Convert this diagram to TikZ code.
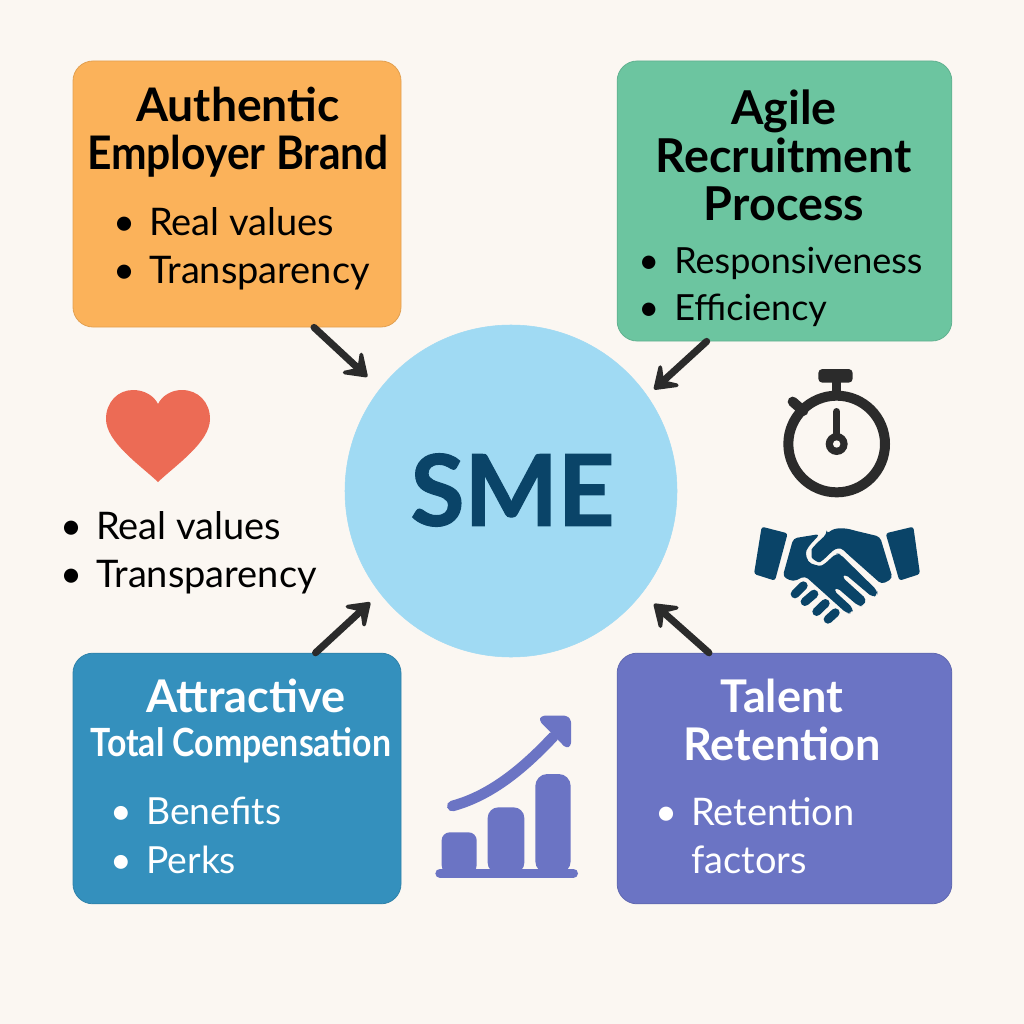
\documentclass[tikz,border=0pt]{standalone}
\usepackage{fontspec}
\usetikzlibrary{arrows.meta}
\setmainfont{Lato}
\newfontfamily\smefont[BoldFeatures={FakeBold=1.2}]{Lato}
\definecolor{bgc}{HTML}{FBF7F2}
\definecolor{orangec}{HTML}{FBB25A}
\definecolor{greenc}{HTML}{6CC5A0}
\definecolor{bluec}{HTML}{3490BD}
\definecolor{purplec}{HTML}{6B74C4}
\definecolor{circlec}{HTML}{A0DAF3}
\definecolor{navyc}{HTML}{0A4468}
\definecolor{darkc}{HTML}{2B2B2B}
\definecolor{heartc}{HTML}{EC6B55}
\newcommand{\bul}{\makebox[27pt][l]{\textbullet}}
\tikzset{
 card/.style={rounded corners=15pt,inner sep=0pt,draw=#1!90!black,line width=.6pt,fill=#1},
 ttl/.style={inner sep=0pt,align=center,font=\bfseries\fontsize{#1}{36}\selectfont},
 ttl/.default=33.8,
 lst/.style={inner sep=0pt,align=left,anchor=north west,font=\fontsize{28.5}{36.5}\selectfont},
 conn/.style={draw=darkc,line width=5.3pt,line cap=round,-{Stealth[length=21pt,width=29pt,inset=10pt,round]}},
}
\begin{document}
\begin{tikzpicture}[x=.75pt,y=-.75pt]
\fill[bgc] (0,0) rectangle (1024,1024);
\useasboundingbox (0,0) rectangle (1024,1024);
\node[card=orangec,minimum width=246pt,minimum height=199.5pt] (orange) at (237,194) {};
\node[card=greenc,minimum width=251pt,minimum height=210pt] (green) at (784.5,201) {};
\node[card=bluec,minimum width=246pt,minimum height=188pt] (blue) at (237,778.5) {};
\node[card=purplec,minimum width=251pt,minimum height=188pt] (purple) at (784.5,778.5) {};
\node[circle,fill=circlec,draw=circlec,inner sep=0pt,minimum size=249pt] (sme) at (511,491) {};
\node[text=navyc,font=\smefont\bfseries\fontsize{74}{74}\selectfont,inner sep=0pt] (smelabel) at (512.5,490) {SME};
\draw[conn,shorten >=13pt] (orange.-60) -- (sme.142);
\draw[conn,shorten >=7pt] (green.-119) -- (sme.35);
\draw[conn,shorten >=10pt] (blue.58.4) -- (sme.218);
\draw[conn,shorten >=12pt] (purple.121.8) -- (sme.-38.3);
% text
\node[ttl=34.7] (t1) at (238,132) {Authentic\\\scalebox{.92}[1]{Employer Brand}};
\node[lst] (l1) at (113,207) {\bul Real values\\\bul Transparency};
\node[ttl=35] (t2) at (784,155) {Agile\\Recruitment\\Process};
\node[lst,font=\fontsize{27}{35.5}\selectfont] (l2) at (638,247) {\bul Responsiveness\\\bul Efficiency};
\node[ttl,text=white] (t3) at (246,696) {Attractive};
\node[text=white,inner sep=0pt,font=\bfseries\fontsize{27}{30}\selectfont] (t3b) at (241,745) {\scalebox{.94}[1.08]{Total Compensation}};
\node[lst,text=white,font=\fontsize{28}{36.5}\selectfont] (l3) at (110,797) {\bul Benefits\\\bul Perks};
\node[ttl,text=white] (t4) at (782,720) {Talent\\Retention};
\node[lst,text=white] (l4) at (655,797) {\bul Retention\\\hspace*{27pt}factors};
\node[lst,text=black] (l5) at (60,511) {\bul Real values\\\bul Transparency};
% heart
\fill[heartc] (158,482) .. controls (140,465) and (106,442) .. (106,419)
  .. controls (106,402) and (118,390) .. (133,390)
  .. controls (145,390) and (154,396) .. (158,404)
  .. controls (162,396) and (171,390) .. (182,390)
  .. controls (198,390) and (210,402) .. (210,419)
  .. controls (210,442) and (176,465) .. (158,482) -- cycle;
% stopwatch
\begin{scope}[shift={(740,350)},x=.25pt,y=-.25pt]
\draw[darkc,line width=7.5pt] (290,282) circle (145);
\fill[darkc,rounded corners=3pt] (235,57) rectangle (338,98);
\fill[darkc] (275,95) rectangle (303,135);
\draw[darkc,line width=7.5pt,line cap=round] (158,155) -- (190,183);
\draw[darkc,line width=5.5pt,line cap=round] (290,185) -- (290,270);
\fill[darkc] (290,282) circle (33);
\fill[bgc] (290,282) circle (11);
% handshake
\fill[navyc,rounded corners=2pt] (65,530) -- (143,550) -- (105,692) -- (42,672) -- cycle;
\fill[navyc,rounded corners=2pt] (437,550) -- (520,530) -- (540,672) -- (478,692) -- cycle;
\fill[navyc,rounded corners=3pt] (260,553) .. controls (285,530) and (320,535) .. (345,542) -- (420,560) -- (458,685) -- (425,703) -- (320,610) .. controls (300,590) and (285,597) .. (270,610) -- (250,630) .. controls (235,640) and (215,625) .. (215,610) .. controls (215,595) and (240,570) .. (260,553) -- cycle;
\fill[navyc,rounded corners=3pt] (160,565) -- (240,552) -- (205,590) .. controls (195,610) and (200,635) .. (225,645) .. controls (250,650) and (265,630) .. (290,610) -- (300,612) -- (412,722) -- (412,735) -- (398,742) -- (315,672) -- (305,680) -- (380,748) -- (370,768) -- (355,768) -- (290,712) -- (280,720) -- (340,775) -- (335,790) -- (320,790) -- (195,678) -- (160,695) -- (128,680) -- cycle;
\draw[navyc,line width=6.5pt,line cap=round] (165,732) -- (190,707);
\draw[navyc,line width=6.5pt,line cap=round] (195,755) -- (222,732);
\draw[navyc,line width=6.5pt,line cap=round] (230,785) -- (256,760);
\draw[navyc,line width=6.5pt,line cap=round] (264,808) -- (286,788);
\end{scope}
% chart
\begin{scope}[shift={(420,700)},x=.25pt,y=-.25pt]
\draw[purplec,line width=7pt,line cap=round] (60,520) -- (460,520);
\fill[purplec,rounded corners=6pt] (65,520) -- (65,397) -- (170,397) -- (170,520) -- cycle;
\fill[purplec,rounded corners=8pt] (203,520) -- (203,322) -- (313,322) -- (313,520) -- cycle;
\fill[purplec,rounded corners=9pt] (346,520) -- (346,222) -- (452,222) -- (452,520) -- cycle;
\draw[purplec,line width=8pt,line cap=round] (97,318) .. controls (220,285) and (320,195) .. (400,110);
\fill[purplec,draw=purplec,line width=4pt,line join=round,rounded corners=3pt] (362,55) -- (445,55) -- (445,140) -- cycle;
\end{scope}
\end{tikzpicture}
\end{document}
